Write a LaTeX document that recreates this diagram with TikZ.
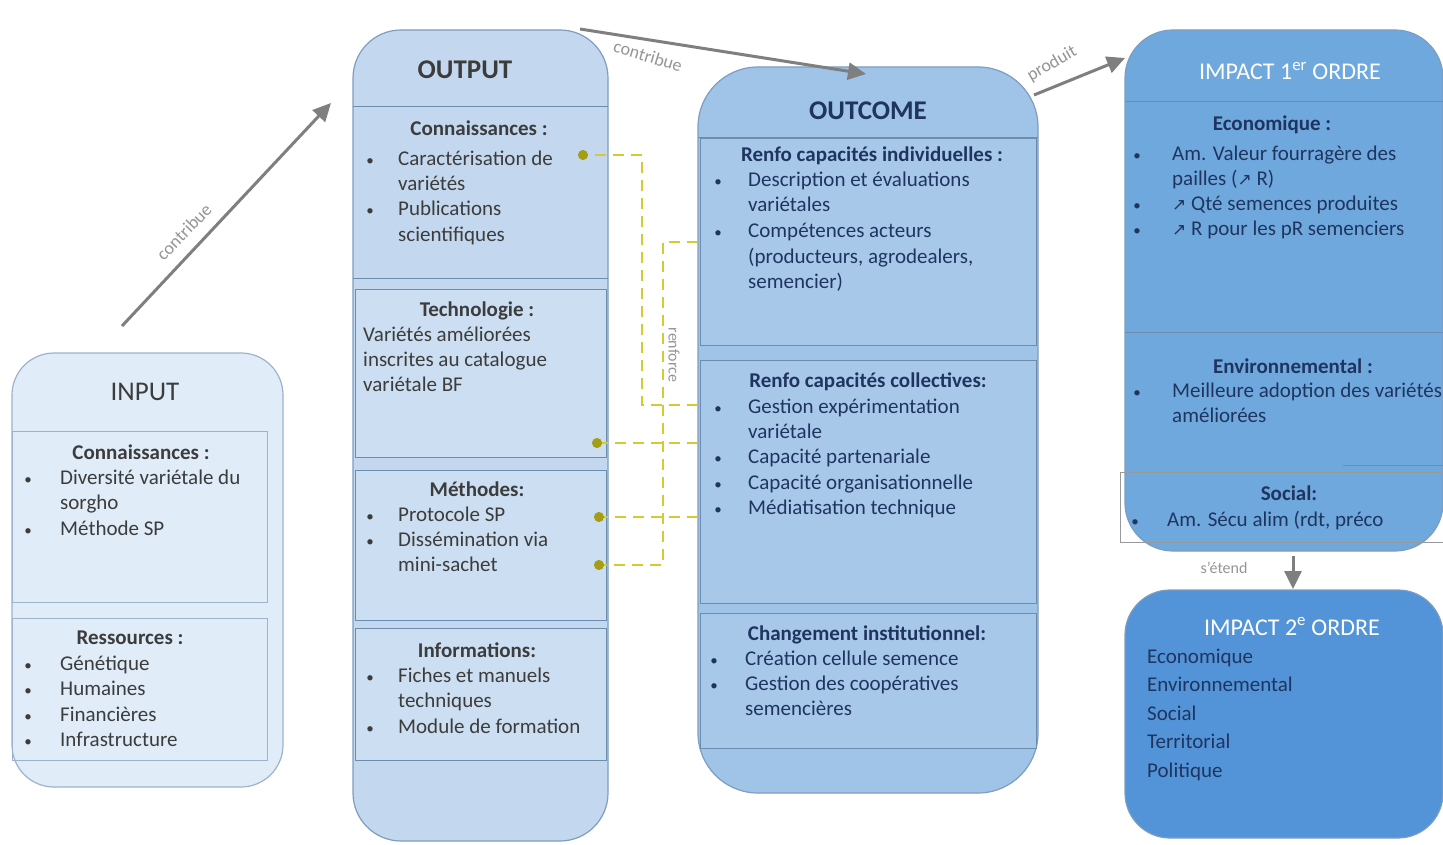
\documentclass[tikz,border=0pt]{standalone}
\usepackage{fontspec}
\setmainfont{Carlito}
\newfontfamily\symfont{DejaVu Sans}
\usetikzlibrary{arrows.meta}

\definecolor{inputfill}{HTML}{E0ECF8}
\definecolor{inputline}{HTML}{9CB3CB}
\definecolor{outputfill}{HTML}{C3D8EE}
\definecolor{outputcell}{HTML}{CCDEF1}
\definecolor{outcomefill}{HTML}{A0C3E8}
\definecolor{outcomecell}{HTML}{A8C8EA}
\definecolor{imponefill}{HTML}{6FA8DD}
\definecolor{imptwofill}{HTML}{5294D7}
\definecolor{boxline}{HTML}{7E9DC0}
\definecolor{cellline}{HTML}{6C8CB0}
\definecolor{graytxt}{HTML}{3C3C3C}
\definecolor{navytxt}{HTML}{1F3560}
\definecolor{arrowgray}{HTML}{7F7F7F}
\definecolor{lblgray}{HTML}{959595}
\definecolor{dashyellow}{HTML}{D5CA2E}
\definecolor{dotolive}{HTML}{A59E12}

% one line of text, left aligned on its baseline
\newcommand\tline[5]{\node[#1,anchor=base west] (#2) at (#3,#4) {#5};}
% small bullet plus text on a common baseline
\newcommand\bitem[6]{%
  \node[#1,anchor=base,font=\fontsize{15}{18}\selectfont] (#2b) at (#3,#5) {\textbullet};
  \node[#1,anchor=base west] (#2) at (#4,#5) {#6};}
% centred bold heading
\newcommand\heading[5]{\node[#1,hfont,anchor=base] (#2) at (#3,#4) {#5};}
% up-right arrow glyph
\newcommand\uparr{{\symfont\fontsize{17}{20}\selectfont ↗}}

\tikzset{
  body/.style={inner sep=0pt,font=\fontsize{21}{25}\selectfont},
  hfont/.style={font=\fontsize{21}{25}\selectfont\bfseries},
  gtxt/.style={body,text=graytxt},
  ntxt/.style={body,text=navytxt},
  title/.style={inner sep=0pt,font=\fontsize{27}{30}\selectfont\bfseries,anchor=base},
  wtitle/.style={inner sep=0pt,font=\fontsize{24}{28}\selectfont,text=white,anchor=base},
  bigbox/.style={draw=boxline,line width=1.2pt},
  cell/.style={draw=cellline,line width=1pt},
  flow/.style={draw=arrowgray,line width=3pt,-{Triangle[length=18pt,width=17pt]}},
  lbl/.style={inner sep=0pt,text=lblgray,font=\fontsize{18}{22}\selectfont},
  dashconn/.style={draw=dashyellow,line width=2.2pt,dash pattern=on 11pt off 7pt,
    -{Circle[length=10pt,color=dotolive,fill=dotolive]}},
}

\begin{document}
\begin{tikzpicture}[x=1pt,y=-1pt]
\useasboundingbox (0,0) rectangle (1443,845);
\fill[white] (0,0) rectangle (1443,845);

% ---------- INPUT ----------
\node[bigbox,draw=inputline,fill=inputfill,rounded corners=42pt,
  minimum width=271pt,minimum height=434pt] (input) at (147.5,570) {};
\draw[cell,draw=inputline] (12,431) rectangle (267,602);
\draw[cell,draw=inputline] (12,618) rectangle (267,760);
\node[title,text=graytxt,font=\fontsize{27}{30}\selectfont] (intitle) at (145,400) {INPUT};
\heading{gtxt}{inh1}{141}{459}{Connaissances :}
\bitem{gtxt}{in1}{28}{60}{484}{Diversité variétale du}
\tline{gtxt}{in2}{60}{509.5}{sorgho}
\bitem{gtxt}{in3}{28}{60}{535}{Méthode SP}
\heading{gtxt}{inh2}{130}{644}{Ressources :}
\bitem{gtxt}{in4}{28}{60}{670}{Génétique}
\bitem{gtxt}{in5}{28}{60}{695.5}{Humaines}
\bitem{gtxt}{in6}{28}{60}{721}{Financières}
\bitem{gtxt}{in7}{28}{60}{746.5}{Infrastructure}

% ---------- OUTPUT ----------
\node[bigbox,fill=outputfill,rounded corners=48pt,
  minimum width=255pt,minimum height=811pt] (output) at (480.5,435.5) {};
\draw[cell] (353,107) -- (608,107);
\draw[cell,fill=outputcell] (355,289) rectangle (606,457);
\draw[cell,fill=outputcell] (355,470) rectangle (606,620);
\draw[cell,fill=outputcell] (355,628) rectangle (606,760);
\draw[cell] (353,278) -- (608,278);
\node[title,text=graytxt] (outtitle) at (465,79) {OUTPUT};
\heading{gtxt}{oh1}{479}{136}{Connaissances :}
\bitem{gtxt}{o1}{370}{398}{166}{Caractérisation de}
\tline{gtxt}{o2}{398}{191}{variétés}
\bitem{gtxt}{o3}{370}{398}{216}{Publications}
\tline{gtxt}{o4}{398}{241}{scientifiques}
\heading{gtxt}{oh2}{477}{316}{Technologie :}
\tline{gtxt}{o5}{363}{341}{Variétés améliorées}
\tline{gtxt}{o6}{363}{366}{inscrites au catalogue}
\tline{gtxt}{o7}{363}{391}{variétale BF}
\heading{gtxt}{oh3}{477}{496}{Méthodes:}
\bitem{gtxt}{o8}{370}{398}{521}{Protocole SP}
\bitem{gtxt}{o9}{370}{398}{546}{Dissémination via}
\tline{gtxt}{o10}{398}{571}{mini-sachet}
\heading{gtxt}{oh4}{477}{657}{Informations:}
\bitem{gtxt}{o11}{370}{398}{682}{Fiches et manuels}
\tline{gtxt}{o12}{398}{707}{techniques}
\bitem{gtxt}{o13}{370}{398}{733}{Module de formation}

% ---------- OUTCOME ----------
\node[bigbox,fill=outcomefill,rounded corners=60pt,
  minimum width=340pt,minimum height=726pt] (outcome) at (868,430) {};
\draw[cell] (698,138) -- (1038,138);
\draw[cell,fill=outcomecell] (700,139) rectangle (1036,345);
\draw[cell,fill=outcomecell] (700,360) rectangle (1036,603);
\draw[cell,fill=outcomecell] (700,613) rectangle (1036,748);
\node[title,text=navytxt] (uctitle) at (868,120) {OUTCOME};
\heading{ntxt}{uh1}{872}{162}{Renfo capacités individuelles :}
\bitem{ntxt}{u1}{718}{748}{187}{Description et évaluations}
\tline{ntxt}{u2}{748}{212}{variétales}
\bitem{ntxt}{u3}{718}{748}{238}{Compétences acteurs}
\tline{ntxt}{u4}{748}{263}{(producteurs, agrodealers,}
\tline{ntxt}{u5}{748}{288}{semencier)}
\heading{ntxt}{uh2}{868}{387}{Renfo capacités collectives:}
\bitem{ntxt}{u6}{718}{748}{413}{Gestion expérimentation}
\tline{ntxt}{u7}{748}{438}{variétale}
\bitem{ntxt}{u8}{718}{748}{463}{Capacité partenariale}
\bitem{ntxt}{u9}{718}{748}{489}{Capacité organisationnelle}
\bitem{ntxt}{u10}{718}{748}{514}{Médiatisation technique}
\heading{ntxt}{uh3}{867}{640}{Changement institutionnel:}
\bitem{ntxt}{u11}{714}{745}{665}{Création cellule semence}
\bitem{ntxt}{u12}{714}{745}{690}{Gestion des coopératives}
\tline{ntxt}{u13}{745}{715}{semencières}

% ---------- IMPACT 1er ORDRE ----------
\node[bigbox,fill=imponefill,rounded corners=48pt,
  minimum width=318pt,minimum height=521pt] (impone) at (1284,290.5) {};
\draw[cell] (1125,102) -- (1443,102);
\draw[cell] (1125,332) -- (1443,332);
\draw[cell] (1343,465) -- (1443,465);
\draw[draw=arrowgray!80,line width=1pt] (1120,472) rectangle (1443,542);
\node[wtitle] (i1title) at (1290,80) {IMPACT 1\textsuperscript{er} ORDRE};
\heading{ntxt}{ih1}{1272}{131}{Economique :}
\bitem{ntxt}{i1}{1137}{1172}{161}{Am. Valeur fourragère des}
\tline{ntxt}{i2}{1172}{186}{pailles (\uparr{} R)}
\bitem{ntxt}{i3}{1137}{1172}{211}{\uparr{} Qté semences produites}
\bitem{ntxt}{i4}{1137}{1172}{236}{\uparr{} R pour les pR semenciers}
\heading{ntxt}{ih2}{1293}{373}{Environnemental :}
\bitem{ntxt}{i5}{1137}{1172}{397}{Meilleure adoption des variétés}
\tline{ntxt}{i6}{1172}{422}{améliorées}
\heading{ntxt}{ih3}{1289}{500}{Social:}
\bitem{ntxt}{i7}{1135}{1167}{526}{Am. Sécu alim (rdt, préco}

% ---------- IMPACT 2e ORDRE ----------
\node[bigbox,fill=imptwofill,rounded corners=45pt,
  minimum width=318pt,minimum height=248pt] (imptwo) at (1284,714) {};
\node[wtitle] (i2title) at (1292,635) {IMPACT 2\textsuperscript{e} ORDRE};
\tline{ntxt}{j1}{1147}{663}{Economique}
\tline{ntxt}{j2}{1147}{691}{Environnemental}
\tline{ntxt}{j3}{1147}{720}{Social}
\tline{ntxt}{j4}{1147}{748}{Territorial}
\tline{ntxt}{j5}{1147}{777}{Politique}

% ---------- gray flow arrows ----------
\coordinate (a1s) at (122,326);
\coordinate (a1e) at (331,103);
\draw[flow] (a1s) -- (a1e);
\node[lbl,rotate=46] (l1) at (184,232) {contribue};

\coordinate (a2s) at (580,29);
\coordinate (a2e) at (866,74);
\draw[flow] (a2s) -- (a2e);
\node[lbl,rotate=-17] (l2) at (648,56) {contribue};

\coordinate (a3s) at (1034,95);
\coordinate (a3e) at (1125,58);
\draw[flow] (a3s) -- (a3e);
\node[lbl,rotate=30] (l3) at (1052,64) {produit};

\coordinate (a4s) at (1293,556);
\coordinate (a4e) at (1293,589);
\draw[flow] (a4s) -- (a4e);
\node[lbl,font=\fontsize{16}{19}\selectfont] (l4) at (1224,568) {s'étend};

% ---------- dashed links between OUTCOME and OUTPUT ----------
\coordinate (d1s) at (698,405);
\coordinate (d1e) at (578,155);
\draw[dashconn] (d1s) -- (642,405) -- (642,155) -- (d1e);
\coordinate (d2s) at (698,242);
\coordinate (d2e) at (594,565);
\draw[dashconn] (d2s) -- (663,242) -- (663,565) -- (d2e);
\coordinate (d3s) at (698,443);
\coordinate (d3e) at (592,443);
\draw[dashconn] (d3s) -- (d3e);
\coordinate (d4s) at (698,517);
\coordinate (d4e) at (594,517);
\draw[dashconn] (d4s) -- (d4e);
\node[lbl,rotate=-90,font=\fontsize{16}{19}\selectfont] (l5) at (674,355) {renforce};

\end{tikzpicture}
\end{document}
